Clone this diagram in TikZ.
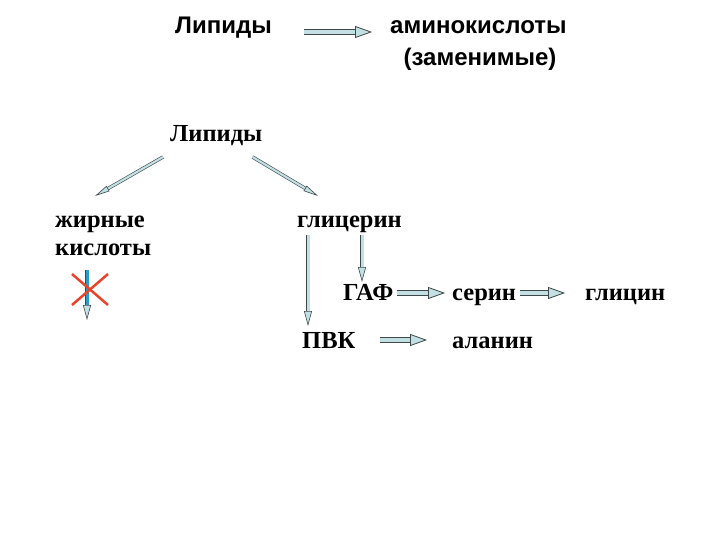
\documentclass[tikz,border=0pt]{standalone}
\usepackage{fontspec}
\setmainfont{Liberation Serif}
\newfontfamily\arialfont{Liberation Sans}
\usetikzlibrary{arrows.meta}
\definecolor{arrfill}{HTML}{C2DFE3}
\definecolor{arredge}{HTML}{3E4848}
\definecolor{crossred}{HTML}{E8432B}

\begin{document}
\begin{tikzpicture}[x=1pt,y=-1pt,font=\fontsize{24.5}{29}\selectfont\bfseries]
\useasboundingbox (0,0) rectangle (720,540);
\tikzstyle{t}=[inner sep=0pt,anchor=base west]
\tikzstyle{ts}=[t,font=\arialfont\fontsize{24}{28}\selectfont\bfseries]
\tikzstyle{blk}=[draw=arredge,line width=0.8pt,double=arrfill,double distance=4pt,-{Triangle[length=17pt,width=12pt,fill=arrfill]}]
\tikzstyle{thin}=[draw=arredge,line width=0.6pt,double=arrfill,double distance=2.2pt,-{Triangle[length=15pt,width=6pt,fill=arrfill]}]
\tikzstyle{vert}=[draw=arredge,line width=0.6pt,double=arrfill,double distance=3pt,-{Triangle[length=15pt,width=8pt,fill=arrfill]}]
% upper line
\node[ts] (lip1) at (175,34) {Липиды};
\node[ts] (amk) at (390,34) {аминокислоты};
\node[ts,anchor=base] (zam) at (480,66) {(заменимые)};
\draw[blk] ([shift={(32,-2)}]lip1.base east) -- ([shift={(-18,-2)}]amk.base west);
% lower scheme
\node[t] (lip2) at (170,142) {Липиды};
\node[t] (zhk) at (55,228) {жирные};
\node[t] (kisl) at (55,255) {кислоты};
\node[t] (gli) at (297,228) {глицерин};
\node[t] (gaf) at (343,300) {ГАФ};
\node[t] (ser) at (452,300) {серин};
\node[t] (glic) at (585,300) {глицин};
\node[t] (pvk) at (302,348) {ПВК};
\node[t] (ala) at (452,348) {аланин};
\draw[thin] ([shift={(-7,15)}]lip2.base west) -- ([shift={(40,-32)}]zhk.base west);
\draw[thin] ([shift={(-10,15)}]lip2.base east) -- ([shift={(21,-32)}]gli.base west);
\draw[vert] ([shift={(11,7)}]gli.base west) -- ([shift={(6,-22)}]pvk.base west);
\draw[vert] ([shift={(65,7)}]gli.base west) -- ([shift={(19,-18)}]gaf.base west);
\draw[blk] ([shift={(3,-7)}]gaf.base east) -- ([shift={(-7,-7)}]ser.base west);
\draw[blk] ([shift={(4,-7)}]ser.base east) -- ([shift={(-20,-7)}]glic.base west);
\draw[blk] ([shift={(24,-8)}]pvk.base east) -- ([shift={(-25,-8)}]ala.base west);
% blocked path from the fatty acids
\coordinate (fa) at ([shift={(32,15)}]kisl.base west);
\draw[vert,double=cyan!60!teal] (fa) -- ++(0,50);
\draw[crossred,line width=2.5pt] ([shift={(-15,4)}]fa) -- ++(36,31);
\draw[crossred,line width=2.5pt] ([shift={(-15,35)}]fa) -- ++(36,-31);
\end{tikzpicture}
\end{document}
